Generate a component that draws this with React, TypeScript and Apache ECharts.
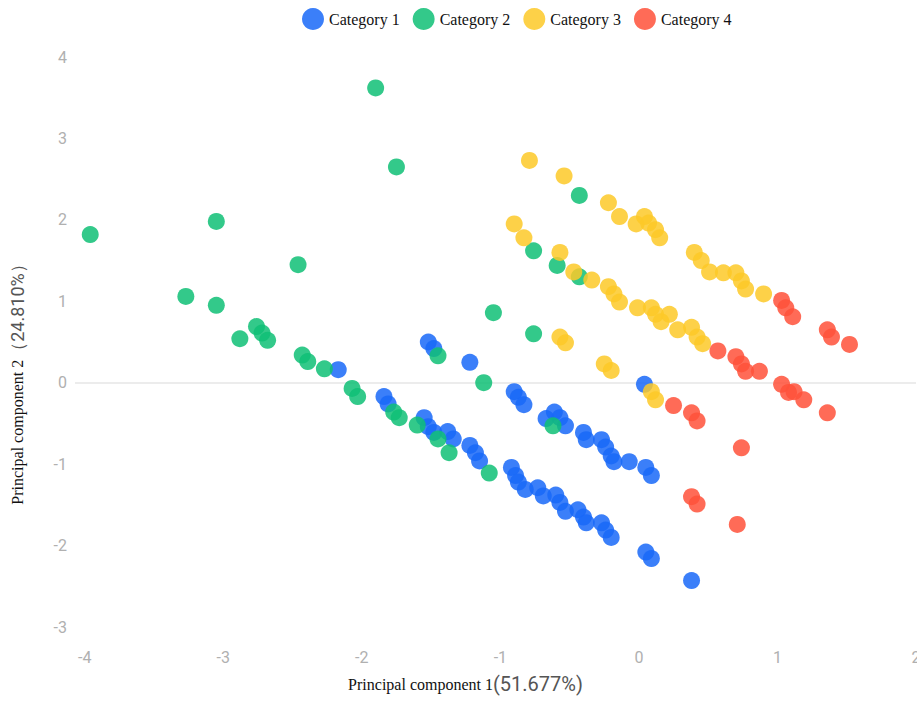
import React, { useEffect, useRef } from "react";
import * as echarts from "echarts";

const categories = ["Category 1", "Category 2", "Category 3", "Category 4"];

const category1: number[][] = [
  [-1.52, 0.5], [-1.48, 0.42], [-1.22, 0.25], [-2.17, 0.16],
  [0.04, -0.02], [-0.9, -0.11], [-0.87, -0.18], [-0.83, -0.27], [-0.67, -0.44], [-0.61, -0.36],
  [-0.57, -0.43], [-0.53, -0.53], [-0.4, -0.61], [-0.38, -0.7], [-0.27, -0.7], [-0.24, -0.79],
  [-0.2, -0.9], [-0.18, -0.97], [-0.07, -0.97], [0.05, -1.04], [0.09, -1.14],
  [-1.84, -0.17], [-1.81, -0.26], [-1.55, -0.43], [-1.52, -0.54], [-1.48, -0.61], [-1.38, -0.6],
  [-1.34, -0.69], [-1.22, -0.77], [-1.18, -0.86], [-1.15, -0.96], [-0.92, -1.04], [-0.89, -1.14],
  [-0.87, -1.22], [-0.82, -1.31], [-0.73, -1.29], [-0.69, -1.39], [-0.6, -1.38], [-0.57, -1.47],
  [-0.53, -1.58], [-0.44, -1.56], [-0.4, -1.65], [-0.38, -1.72], [-0.27, -1.72], [-0.24, -1.81],
  [-0.2, -1.9], [0.05, -2.08], [0.09, -2.16], [0.38, -2.43],
];

const category2: number[][] = [
  [-3.96, 1.82], [-3.05, 1.98], [-2.46, 1.45], [-3.27, 1.06], [-3.05, 0.95], [-2.76, 0.69],
  [-2.72, 0.61], [-2.68, 0.52], [-2.88, 0.54], [-2.43, 0.34], [-2.39, 0.26], [-2.27, 0.17],
  [-1.9, 3.62], [-1.75, 2.65], [-1.05, 0.86], [-1.45, 0.33], [-1.12, 0.0], [-2.07, -0.07],
  [-2.03, -0.17], [-1.77, -0.36], [-1.73, -0.43], [-1.6, -0.52], [-1.45, -0.69], [-1.37, -0.86],
  [-1.08, -1.11], [-0.62, -0.53], [-0.43, 2.3], [-0.76, 1.62], [-0.59, 1.44], [-0.43, 1.3],
  [-0.76, 0.6],
];

const category3: number[][] = [
  [-0.79, 2.73], [-0.54, 2.54], [-0.22, 2.21], [-0.14, 2.04], [-0.02, 1.95], [0.04, 2.04],
  [0.07, 1.96], [0.12, 1.88], [0.15, 1.78], [0.4, 1.6], [0.45, 1.5], [0.51, 1.36], [0.61, 1.35],
  [0.7, 1.35], [0.74, 1.25], [0.77, 1.15], [0.9, 1.09],
  [-0.9, 1.95], [-0.83, 1.78], [-0.57, 1.6], [-0.47, 1.36], [-0.34, 1.26], [-0.22, 1.18],
  [-0.18, 1.09], [-0.14, 0.99], [-0.01, 0.92], [0.09, 0.92], [0.12, 0.84], [0.16, 0.75],
  [0.22, 0.84], [0.28, 0.65], [0.38, 0.68], [0.42, 0.56], [0.46, 0.48],
  [-0.57, 0.56], [-0.53, 0.49], [-0.25, 0.23], [-0.2, 0.15], [0.09, -0.11], [0.12, -0.21],
];

const category4: number[][] = [
  [1.03, 1.01], [1.06, 0.92], [1.11, 0.81], [1.36, 0.65], [1.39, 0.56], [1.52, 0.47],
  [0.57, 0.39], [0.7, 0.32], [0.74, 0.23], [0.77, 0.14], [0.87, 0.14], [1.03, -0.02],
  [1.08, -0.12], [1.12, -0.11], [1.19, -0.21], [1.36, -0.37], [0.25, -0.28], [0.38, -0.37],
  [0.42, -0.47], [0.74, -0.8], [0.38, -1.4], [0.42, -1.49], [0.71, -1.74],
];

const seriesData = [category1, category2, category3, category4];
const colors = ["#1969f8", "#0fbf76", "#fdc928", "#ff513a"];
const xTicks = [-4, -3, -2, -1, 0, 1, 2];
const yTicks = [-3, -2, -1, 0, 1, 2, 3, 4];

export default function App() {
  const ref = useRef<HTMLDivElement>(null);
  useEffect(() => {
    if (!ref.current) return;
    const chart = echarts.init(ref.current, null, { renderer: "svg" });
    const labelStyle = { color: "#b0b0b0", fontSize: 16, fontFamily: "Roboto, sans-serif" };
    chart.setOption({
      animation: false,
      color: colors,
      legend: {
        data: categories,
        left: 297,
        top: 3,
        icon: "circle",
        itemWidth: 22,
        itemHeight: 22,
        itemGap: 13,
        textStyle: { color: "#111", fontSize: 16, fontFamily: "'Liberation Serif', 'Times New Roman', serif" },
      },
      grid: { left: 75, right: 1, top: 57, bottom: 75, containLabel: false, outerBoundsMode: "none" },
      xAxis: {
        type: "value",
        min: -4.07,
        max: 2.0,
        axisLine: { show: false },
        axisTick: { show: false },
        splitLine: { show: false },
        axisLabel: { ...labelStyle, margin: 22, customValues: xTicks, showMinLabel: true, showMaxLabel: true, hideOverlap: false },
        name: "{a|Principal component 1}{b|(51.677%)}",
        nameLocation: "middle",
        nameGap: 47,
        nameTextStyle: {
          padding: [0, 60, 0, 0],
          rich: {
            a: { fontFamily: "'Liberation Serif', serif", fontSize: 16, color: "#111" },
            b: { fontFamily: "Roboto, sans-serif", fontSize: 20, color: "#555" },
          },
        },
      },
      yAxis: {
        type: "value",
        min: -3,
        max: 4,
        interval: 1,
        axisLine: { show: false },
        axisTick: { show: false },
        splitLine: { show: false },
        axisLabel: { ...labelStyle, margin: 8, customValues: yTicks },
        name: "{a|Principal component 2}{b|（24.810%）}",
        nameLocation: "middle",
        nameGap: 49,
        nameTextStyle: {
          padding: [0, 76, 0, 0],
          rich: {
            a: { fontFamily: "'Liberation Serif', serif", fontSize: 16, color: "#111" },
            b: { fontFamily: "Roboto, sans-serif", fontSize: 18, color: "#555" },
          },
        },
      },
      series: seriesData.map((d, i) => ({
        name: categories[i],
        type: "scatter",
        data: d,
        symbolSize: 17,
        itemStyle: { color: colors[i], opacity: 0.85 },
        markLine:
          i === 0
            ? {
                silent: true,
                symbol: ["none", "none"],
                label: { show: false },
                lineStyle: { color: "#e6e6e6", type: "solid", width: 1.5 },
                data: [{ yAxis: 0 }],
                z: 0,
              }
            : undefined,
      })),
    });
    return () => chart.dispose();
  }, []);
  return <div ref={ref} style={{ width: 917, height: 702, position: "absolute", left: 0, top: 0 }} />;
}
